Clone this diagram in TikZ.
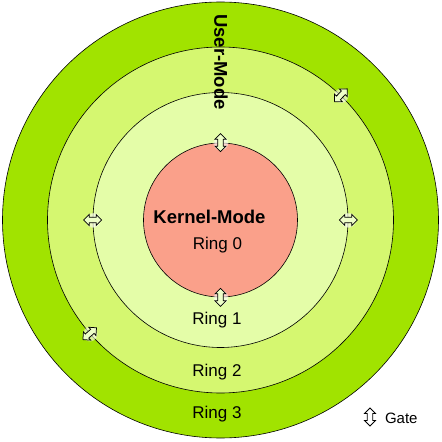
\documentclass[tikz,border=0pt]{standalone}
\usepackage{fontspec}
\setmainfont{Liberation Sans}
\usetikzlibrary{shapes.arrows,fadings}
\definecolor{ringthree}{RGB}{161,227,0}
\definecolor{ringtwo}{RGB}{213,247,112}
\definecolor{ringone}{RGB}{228,253,168}
\definecolor{ringzero}{RGB}{250,160,138}
\definecolor{gatefill}{RGB}{238,255,200}
\begin{document}
\begin{tikzpicture}[x = 1pt, y = 1pt,
		ring/.style = {circle, draw, line width = 0.6pt, inner sep = 0pt},
		gate/.style = {double arrow, draw, fill = gatefill, line width = 0.75pt, inner sep = 2.3pt, minimum width = 10.5pt, minimum height = 18pt, double arrow head extend = 2.8pt},
		halo/.style = {fill = white, opacity = 0.6, path fading = circle with fuzzy edge 20 percent},
		lbl/.style = {anchor = base, font = \fontsize{17}{20}\selectfont},
		mode/.style = {anchor = base, font = \fontsize{18.5}{22}\selectfont\bfseries}]
		\useasboundingbox (-220.5,-222) rectangle (221.5,220);
		\node [ring, fill = ringthree, minimum size = 436pt] (ring3) at (0,0) {};
		\node [ring, fill = ringtwo, minimum size = 346pt] (ring2) at (0,0) {};
		\node [ring, fill = ringone, minimum size = 255pt] (ring1) at (0,0) {};
		\node [ring, fill = ringzero, minimum size = 154pt] (ring0) at (0,0) {};
		% glow round the gates
		\foreach \g in {ring0.north, ring0.south, ring1.west, ring1.east, ring2.46, ring2.221}
			\fill [halo] (\g) circle (8pt);
		\node [gate, rotate = 90] (g0n) at (ring0.north) {};
		\node [gate, rotate = 90] (g0s) at (ring0.south) {};
		\node [gate] (g1w) at (ring1.west) {};
		\node [gate] (g1e) at (ring1.east) {};
		\node [gate, rotate = 46] (g2ne) at (ring2.46) {};
		\node [gate, rotate = 41] (g2sw) at (ring2.221) {};
		\node [mode, anchor = center, rotate = -90] (user) at (0.5,158) {User-Mode};
		\node [mode] (kernel) at (-11,-3) {Kernel-Mode};
		\node [lbl] (r0) at (-3,-29) {Ring 0};
		\node [lbl] (r1) at (-3.5,-104) {Ring 1};
		\node [lbl] (r2) at (-3.5,-156) {Ring 2};
		\node [lbl] (r3) at (-3.5,-198) {Ring 3};
		% legend
		\node [gate, rotate = 90, fill = white] (key) at (149.5,-197) {};
		\node [anchor = base west, font = \fontsize{15}{18}\selectfont] (keytext) at (161,-203) {Gate};
	\end{tikzpicture}
\end{document}
